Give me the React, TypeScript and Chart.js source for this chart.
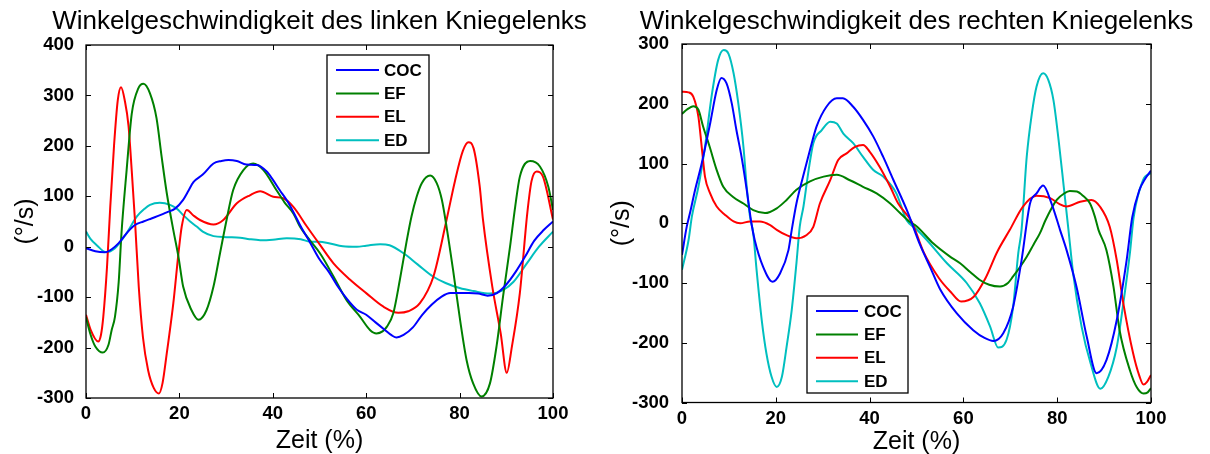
import React, { useEffect, useRef } from "react";
import { Chart, registerables } from "chart.js";

Chart.register(...registerables);

type Pt = [number, number];

const FONT = 'Arial, "Liberation Sans", Helvetica, sans-serif';

const seriesNames = ["COC", "EF", "EL", "ED"];
const seriesColors = ["#0000FF", "#008000", "#FF0000", "#00BFBF"];

const xTicks = [0, 20, 40, 60, 80, 100];
const leftYTicks = [-300, -200, -100, 0, 100, 200, 300, 400];
const rightYTicks = [-300, -200, -100, 0, 100, 200, 300];

const leftTitle = "Winkelgeschwindigkeit des linken Kniegelenks";
const rightTitle = "Winkelgeschwindigkeit des rechten Kniegelenks";
const xLabel = "Zeit (%)";
const yLabel = "(°/s)";

// ---- left knee ----
const leftCOC: Pt[] = [
  [0, -3], [2, -9], [4, -11], [5.5, -5], [7, 7], [9, 30], [10.5, 43], [12.3, 50], [14, 56], [16, 63],
  [17.5, 69], [19, 75], [20.8, 93], [22, 112], [23, 128], [25, 143], [27.3, 165], [29, 170], [30.5, 172],
  [32.3, 170], [34.3, 163], [36.6, 162], [38.7, 149], [40, 133], [41.5, 112], [43, 92], [44.4, 69], [46, 40],
  [48, 8], [50, -25], [52, -50], [54, -80], [56, -105], [58, -125], [60, -135], [62, -150], [64, -165],
  [65.5, -176], [66.5, -180], [68, -175], [70, -160], [72, -135], [74, -115], [76, -100], [78, -92],
  [80, -92], [82, -92], [84, -93], [86, -97], [88, -92], [90, -75], [92, -50], [94, -20], [96, 12],
  [98, 33], [100, 50],
];
const leftEF: Pt[] = [
  [0, -140], [1, -175], [2, -198], [3.6, -210], [4.8, -195], [5.5, -165], [6.2, -139], [7, -70], [7.6, 27],
  [8.7, 152], [9.8, 264], [11.2, 314], [12.3, 323], [13.7, 304], [15.1, 255], [16.2, 178], [17.3, 106],
  [18.7, 33], [19.8, -20], [20.8, -79], [22.6, -126], [24.1, -145], [25.8, -126], [27.3, -79], [28.7, -13],
  [30.1, 53], [31.5, 112], [33.7, 152], [35.8, 165], [38, 152], [40.8, 112], [42.5, 88], [44.4, 66],
  [45.8, 40], [48, 12], [50.1, -13], [53, -59], [55.8, -106], [58.7, -139], [60.8, -165], [62.2, -172],
  [63.5, -168], [64.4, -159], [65.8, -132], [67.2, -66], [68.7, 13], [69.7, 60], [70.8, 99], [71.9, 126],
  [73.7, 141], [75.1, 126], [76.2, 93], [77.2, 40], [78.6, -46], [80.1, -145], [81.5, -225], [82.9, -271],
  [84.7, -297], [86.5, -271], [87.9, -198], [89.3, -99], [90.8, 0], [91.9, 79], [92.9, 139], [95.1, 170],
  [97.2, 159], [99, 119], [100, 73],
];
const leftEL: Pt[] = [
  [0, -135], [1, -165], [2.6, -188], [3.2, -175], [3.7, -139], [4.5, -40], [5.2, 80], [6, 200], [6.8, 290],
  [7.5, 316], [8.3, 290], [9.1, 240], [9.8, 150], [10.5, 50], [11.3, -80], [12.2, -180], [13.3, -245],
  [14.5, -280], [15.6, -291], [16.4, -270], [17.3, -211], [18.7, -112], [19.8, -13], [20.5, 40], [21.6, 73],
  [23, 62], [24.4, 53], [27.3, 44], [29.4, 53], [32.3, 86], [35.1, 102], [37.3, 110], [40.1, 99], [42.2, 96],
  [44.4, 79], [47.3, 40], [50, 5], [53, -33], [56.5, -65], [60, -92], [63.7, -119], [66.9, -131], [69, -128],
  [71.5, -112], [74.4, -59], [77.2, 53], [79, 130], [80.7, 190], [81.9, 207], [83, 195], [84.3, 120],
  [85, 54], [87, -79], [88.8, -172], [90.1, -250], [91.2, -198], [92.9, -92], [94.5, 67], [95.4, 130],
  [96.5, 149], [97.8, 140], [100, 54],
];
const leftED: Pt[] = [
  [0, 30], [1, 15], [2.3, 3], [4.3, -11], [6.2, -3], [8.7, 27], [10.9, 60], [12.5, 75], [13.7, 83],
  [15.8, 87], [18, 83], [19.5, 75], [20.8, 63], [22.3, 50], [23.7, 40], [25, 30], [27.3, 21], [30.1, 19],
  [33, 18], [35, 15], [37.3, 13], [40, 14], [43, 17], [46, 15], [48, 10], [50, 10], [52, 7], [55, 1],
  [58, 0], [60, 2], [63, 5], [65, 3], [68, -13], [71, -35], [74.3, -59], [77, -72], [80, -82], [83, -88],
  [86.5, -93], [89.3, -86], [91.5, -70], [94.4, -33], [97, 0], [100, 30],
];

// ---- right knee ----
const rightCOC: Pt[] = [
  [0, -53], [1, -6], [1.7, 17], [2.8, 56], [4.2, 100], [6, 167], [7.4, 223], [8.4, 243], [9.5, 234],
  [10.6, 201], [11.6, 156], [12.7, 111], [13.8, 56], [14.8, 0], [15.5, -28], [17.3, -73], [19.3, -98],
  [20.9, -84], [22.7, -45], [23.4, -11], [24.4, 33], [25.8, 78], [27.3, 123], [28.7, 162], [30.8, 195],
  [33, 209], [34.3, 209], [36.5, 195], [38.6, 173], [40.8, 145], [42.9, 111], [45.1, 72], [48.1, 19],
  [50.7, -35], [53, -75], [55, -110], [58.6, -151], [62.1, -179], [64.5, -192], [66.4, -197], [68.5, -184],
  [70.6, -140], [72.4, -62], [74.2, 33], [75.6, 50], [77, 63], [78.8, 33], [80.6, -11], [82, -45],
  [84.1, -106], [86.3, -190], [88.4, -251], [90.5, -229], [92.7, -162], [94.8, -62], [96, 10], [97.5, 55],
  [98.8, 75], [100, 88],
];
const rightEF: Pt[] = [
  [0, 183], [1, 190], [2.4, 196], [3.5, 190], [4.5, 162], [5.9, 128], [7.4, 89], [8.8, 61], [10.9, 44],
  [13.1, 33], [15.2, 22], [17.7, 17], [20.2, 25], [22.3, 39], [24.4, 56], [27.3, 70], [30.2, 78], [33, 81],
  [35.8, 72], [38.6, 61], [41.5, 50], [44.4, 33], [46.5, 17], [48.6, 2], [50, -5], [53.6, -34], [57, -55],
  [59.3, -67], [61.5, -82], [63.5, -95], [65.5, -103], [67.8, -106], [69.5, -100], [70.6, -89], [72, -74],
  [73.5, -56], [75, -35], [76.3, -17], [77.5, 5], [79.9, 39], [81.5, 50], [82.7, 54], [84.2, 53], [85.5, 46],
  [87, 33], [88, 12], [88.8, -11], [90.5, -45], [92, -106], [93.3, -179], [95.5, -246], [97, -275],
  [98.4, -285], [99.3, -283], [100, -276],
];
const rightEL: Pt[] = [
  [0, 220], [1.4, 219], [2.4, 212], [3.5, 178], [4.2, 128], [4.9, 78], [6, 50], [7.4, 28], [9.2, 14],
  [11, 3], [12.4, 0], [14.5, 3], [16.6, 3], [18.8, -3], [20.2, -11], [22.3, -20], [24.4, -25], [26.5, -20],
  [28, -6], [29.4, 33], [31.6, 72], [33.3, 106], [35.1, 117], [36.9, 128], [38.6, 131], [40, 120],
  [42.1, 95], [44.4, 61], [46.1, 33], [49, 2], [51.5, -48], [54.8, -92], [57.3, -115], [59.5, -131],
  [62.2, -123], [64.7, -92], [67.2, -48], [69.9, -11], [72.7, 28], [75.6, 46], [78.5, 42], [80.5, 32],
  [82, 28], [84.9, 36], [87.3, 39], [89.1, 28], [91.2, -6], [92.7, -62], [94.1, -134], [96.2, -218],
  [97.5, -255], [98.4, -270], [99.2, -265], [100, -254],
];
const rightED: Pt[] = [
  [0, -78], [1.4, -28], [2.1, 11], [3.5, 61], [4.9, 128], [6.3, 212], [7.7, 273], [8.9, 290], [9.9, 284],
  [11, 251], [12, 201], [13.1, 128], [13.8, 61], [14.5, 11], [15.2, -17], [15.9, -78], [17, -162],
  [18, -218], [19.1, -257], [20.2, -274], [21.3, -257], [22.3, -207], [23.4, -145], [24.4, -67], [25.1, -6],
  [25.9, 28], [27, 89], [28, 134], [29.8, 156], [31.6, 170], [33, 167], [34.4, 150], [36.5, 134],
  [38.6, 111], [40.8, 89], [42.9, 78], [45.7, 50], [47.9, 5], [50, -10], [52.2, -28], [56.5, -67],
  [60.7, -100], [63.5, -134], [65.7, -173], [67.4, -208], [69.2, -195], [70.6, -140], [71.7, -50],
  [72.4, -11], [73.5, 111], [74.6, 184], [75.6, 229], [77, 251], [78.1, 240], [79.2, 206], [80.3, 139],
  [81.4, 61], [82.4, -11], [83.4, -84], [85.2, -173], [87.1, -234], [89.2, -277], [90.9, -257],
  [92.7, -207], [94.1, -134], [95.5, -50], [96.3, 10], [98.3, 72], [100, 84],
];

const leftSeries = [leftCOC, leftEF, leftEL, leftED];
const rightSeries = [rightCOC, rightEF, rightEL, rightED];

const boxPlugin = {
  id: "matBox",
  afterDatasetsDraw(chart: any) {
    const { ctx, chartArea: a } = chart;
    const xs = chart.scales.x;
    const ys = chart.scales.y;
    ctx.save();
    ctx.strokeStyle = "#000";
    ctx.lineWidth = 1.3;
    ctx.strokeRect(a.left, a.top, a.right - a.left, a.bottom - a.top);
    ctx.lineWidth = 1;
    const tl = 5;
    ctx.beginPath();
    xs.ticks.forEach((t: any) => {
      const px = Math.round(xs.getPixelForValue(t.value)) + 0.5;
      ctx.moveTo(px, a.bottom);
      ctx.lineTo(px, a.bottom - tl);
      ctx.moveTo(px, a.top);
      ctx.lineTo(px, a.top + tl);
    });
    ys.ticks.forEach((t: any) => {
      const py = Math.round(ys.getPixelForValue(t.value)) + 0.5;
      ctx.moveTo(a.left, py);
      ctx.lineTo(a.left + tl, py);
      ctx.moveTo(a.right, py);
      ctx.lineTo(a.right - tl, py);
    });
    ctx.stroke();
    ctx.restore();
  },
};

const titlePlugin = {
  id: "matTitle",
  afterDraw(chart: any, _args: any, opts: any) {
    if (!opts || !opts.text) return;
    const ctx = chart.ctx;
    const a = chart.chartArea;
    ctx.save();
    ctx.fillStyle = "#000";
    ctx.font = `normal 26px ${FONT}`;
    ctx.textAlign = "center";
    ctx.textBaseline = "middle";
    ctx.fillText(opts.text, (a.left + a.right) / 2, opts.y);
    ctx.restore();
  },
};

const legendPlugin = {
  id: "matLegend",
  afterDraw(chart: any, _args: any, opts: any) {
    if (!opts || !opts.show) return;
    const ctx = chart.ctx;
    const a = chart.chartArea;
    const x = a.left + opts.dx;
    const y = a.top + opts.dy;
    ctx.save();
    ctx.fillStyle = "#fff";
    ctx.fillRect(x, y, opts.w, opts.h);
    ctx.strokeStyle = "#000";
    ctx.lineWidth = 1.3;
    ctx.strokeRect(x, y, opts.w, opts.h);
    chart.data.datasets.forEach((ds: any, i: number) => {
      const yy = y + opts.rowStart + i * opts.rowStep;
      ctx.strokeStyle = ds.borderColor;
      ctx.lineWidth = 2;
      ctx.beginPath();
      ctx.moveTo(x + opts.lineX0, yy);
      ctx.lineTo(x + opts.lineX1, yy);
      ctx.stroke();
      ctx.fillStyle = "#000";
      ctx.font = `bold 17px ${FONT}`;
      ctx.textBaseline = "middle";
      ctx.textAlign = "left";
      ctx.fillText(ds.label, x + opts.textX, yy + 1);
    });
    ctx.restore();
  },
};

type PanelProps = {
  left: number;
  width: number;
  title: string;
  series: Pt[][];
  yTicks: number[];
  yAxisWidth: number;
  xAxisHeight: number;
  padRight: number;
  padTop: number;
  titleY: number;
  yTitlePad: number;
  xTitlePad: number;
  xTickPad: number;
  yTickPad: number;
  legend: any;
};

function Panel(p: PanelProps) {
  const ref = useRef<HTMLCanvasElement | null>(null);
  useEffect(() => {
    if (!ref.current) return;
    const chart = new Chart(ref.current, {
      type: "line",
      data: {
        datasets: p.series.map((s, i) => ({
          label: seriesNames[i],
          data: s.map(([x, y]) => ({ x, y })),
          borderColor: seriesColors[i],
          backgroundColor: seriesColors[i],
          borderWidth: 2,
          pointRadius: 0,
          fill: false,
          cubicInterpolationMode: "monotone" as const,
        })),
      },
      options: {
        responsive: false,
        animation: false,
        layout: { padding: { left: 0, right: p.padRight, top: p.padTop, bottom: 0 } },
        plugins: {
          legend: { display: false },
          tooltip: { enabled: false },
          title: { display: false },
          matTitle: { text: p.title, y: p.titleY },
          matLegend: p.legend,
        } as any,
        scales: {
          x: {
            type: "linear",
            min: 0,
            max: 100,
            grid: { display: false },
            border: { display: false },
            afterBuildTicks: (s: any) => {
              s.ticks = xTicks.map((v) => ({ value: v }));
            },
            afterFit: (s: any) => {
              s.height = p.xAxisHeight;
              s.paddingLeft = 0;
              s.paddingRight = 0;
            },
            ticks: {
              color: "#000",
              padding: p.xTickPad,
              maxRotation: 0,
              autoSkip: false,
              font: { family: FONT, size: 18.5, weight: "bold" },
              callback: (v: any) => String(v),
            },
            title: {
              display: true,
              text: xLabel,
              color: "#000",
              font: { family: FONT, size: 25, weight: "normal", lineHeight: 1.2 },
              padding: { top: 0, bottom: p.xTitlePad },
            },
          },
          y: {
            type: "linear",
            min: p.yTicks[0],
            max: p.yTicks[p.yTicks.length - 1],
            grid: { display: false },
            border: { display: false },
            afterBuildTicks: (s: any) => {
              s.ticks = p.yTicks.map((v) => ({ value: v }));
            },
            afterFit: (s: any) => {
              s.width = p.yAxisWidth;
              s.paddingTop = 0;
              s.paddingBottom = 0;
            },
            ticks: {
              color: "#000",
              padding: p.yTickPad,
              autoSkip: false,
              font: { family: FONT, size: 18.5, weight: "bold" },
              callback: (v: any) => String(v),
            },
            title: {
              display: true,
              text: yLabel,
              color: "#000",
              font: { family: FONT, size: 25, weight: "normal", lineHeight: 1.2 },
              padding: { top: p.yTitlePad, bottom: 0 },
            },
          },
        },
      },
      plugins: [boxPlugin, legendPlugin, titlePlugin],
    });
    return () => chart.destroy();
  }, []);
  return (
    <canvas
      ref={ref}
      width={p.width}
      height={454}
      style={{ position: "absolute", left: p.left, top: 0, width: p.width, height: 454 }}
    />
  );
}

export default function App() {
  return (
    <div
      style={{
        position: "absolute",
        left: 0,
        top: 0,
        width: 1210,
        height: 454,
        background: "#fff",
        overflow: "hidden",
      }}
    >
      <Panel
        left={0}
        width={600}
        title={leftTitle}
        series={leftSeries}
        yTicks={leftYTicks}
        yAxisWidth={86}
        xAxisHeight={56}
        padRight={47}
        padTop={45}
        titleY={21.5}
        yTitlePad={11}
        xTitlePad={-2}
        xTickPad={-3}
        yTickPad={4}
        legend={{ show: true, dx: 241, dy: 10, w: 102, h: 98, rowStart: 15, rowStep: 23.4, lineX0: 9, lineX1: 52, textX: 57 }}
      />
      <Panel
        left={600}
        width={610}
        title={rightTitle}
        series={rightSeries}
        yTicks={rightYTicks}
        yAxisWidth={82}
        xAxisHeight={51.5}
        padRight={59}
        padTop={44}
        titleY={21.5}
        yTitlePad={7}
        xTitlePad={-3}
        xTickPad={-3}
        yTickPad={5}
        legend={{ show: true, dx: 125, dy: 252, w: 101, h: 97, rowStart: 15, rowStep: 23.4, lineX0: 9, lineX1: 51, textX: 57 }}
      />
    </div>
  );
}
